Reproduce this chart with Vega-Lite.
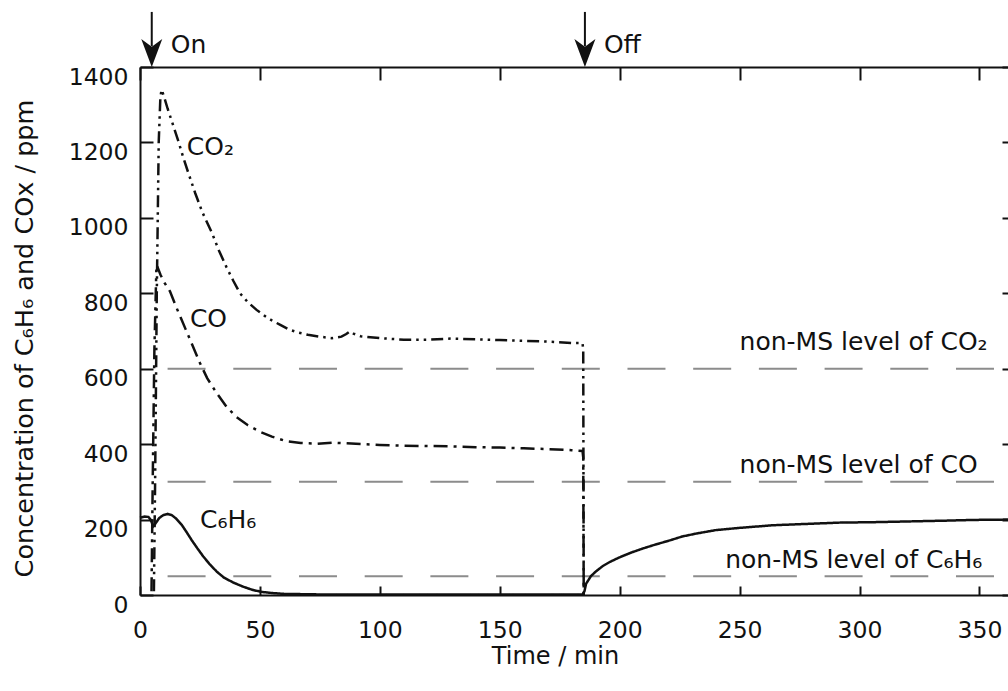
{
  "$schema": "https://vega.github.io/schema/vega-lite/v6.json",
  "width": 868,
  "height": 528,
  "autosize": {"type": "none"},
  "padding": {"left": 140, "top": 67, "right": 0, "bottom": 96},
  "background": "white",
  "config": {"view": {"stroke": null}, "font": "DejaVu Sans", "axis": {"grid": false}},
  "datasets": {
    "curves": [
      {"series": "C6H6", "t": 0, "v": 205}, {"series": "C6H6", "t": 2, "v": 208}, {"series": "C6H6", "t": 3.5, "v": 207},
      {"series": "C6H6", "t": 4.5, "v": 199}, {"series": "C6H6", "t": 5.5, "v": 182}, {"series": "C6H6", "t": 6.5, "v": 190},
      {"series": "C6H6", "t": 8, "v": 204}, {"series": "C6H6", "t": 9.7, "v": 212}, {"series": "C6H6", "t": 11.5, "v": 215},
      {"series": "C6H6", "t": 13.2, "v": 212}, {"series": "C6H6", "t": 15, "v": 203}, {"series": "C6H6", "t": 17.4, "v": 186},
      {"series": "C6H6", "t": 19.5, "v": 166}, {"series": "C6H6", "t": 21.5, "v": 146}, {"series": "C6H6", "t": 24, "v": 123},
      {"series": "C6H6", "t": 26.4, "v": 102}, {"series": "C6H6", "t": 29, "v": 82}, {"series": "C6H6", "t": 32, "v": 62},
      {"series": "C6H6", "t": 35, "v": 46}, {"series": "C6H6", "t": 38.9, "v": 33}, {"series": "C6H6", "t": 43, "v": 22},
      {"series": "C6H6", "t": 47.2, "v": 13}, {"series": "C6H6", "t": 51, "v": 8}, {"series": "C6H6", "t": 55.5, "v": 5},
      {"series": "C6H6", "t": 60, "v": 3}, {"series": "C6H6", "t": 70, "v": 2}, {"series": "C6H6", "t": 80, "v": 1},
      {"series": "C6H6", "t": 100, "v": 1}, {"series": "C6H6", "t": 120, "v": 1}, {"series": "C6H6", "t": 140, "v": 1},
      {"series": "C6H6", "t": 160, "v": 1}, {"series": "C6H6", "t": 184.5, "v": 1}, {"series": "C6H6", "t": 185.3, "v": 10},
      {"series": "C6H6", "t": 186, "v": 30}, {"series": "C6H6", "t": 188, "v": 50}, {"series": "C6H6", "t": 190, "v": 62},
      {"series": "C6H6", "t": 193, "v": 77}, {"series": "C6H6", "t": 196, "v": 88}, {"series": "C6H6", "t": 200, "v": 100},
      {"series": "C6H6", "t": 205, "v": 113}, {"series": "C6H6", "t": 210, "v": 124}, {"series": "C6H6", "t": 215, "v": 134},
      {"series": "C6H6", "t": 220, "v": 143}, {"series": "C6H6", "t": 226, "v": 155}, {"series": "C6H6", "t": 232, "v": 163},
      {"series": "C6H6", "t": 240, "v": 172}, {"series": "C6H6", "t": 250, "v": 178}, {"series": "C6H6", "t": 264, "v": 185},
      {"series": "C6H6", "t": 280, "v": 189}, {"series": "C6H6", "t": 292, "v": 192}, {"series": "C6H6", "t": 305, "v": 193},
      {"series": "C6H6", "t": 320, "v": 195}, {"series": "C6H6", "t": 335, "v": 197}, {"series": "C6H6", "t": 347, "v": 199},
      {"series": "C6H6", "t": 362, "v": 200},
      {"series": "CO2", "t": 5.8, "v": 10}, {"series": "CO2", "t": 6.3, "v": 300}, {"series": "CO2", "t": 7, "v": 800},
      {"series": "CO2", "t": 7.8, "v": 1200}, {"series": "CO2", "t": 8.5, "v": 1320}, {"series": "CO2", "t": 9, "v": 1340},
      {"series": "CO2", "t": 10, "v": 1322}, {"series": "CO2", "t": 11.5, "v": 1290}, {"series": "CO2", "t": 13.8, "v": 1246},
      {"series": "CO2", "t": 16, "v": 1203}, {"series": "CO2", "t": 18, "v": 1161}, {"series": "CO2", "t": 20, "v": 1122},
      {"series": "CO2", "t": 23, "v": 1066}, {"series": "CO2", "t": 26, "v": 1015}, {"series": "CO2", "t": 30, "v": 960},
      {"series": "CO2", "t": 33, "v": 912}, {"series": "CO2", "t": 36, "v": 870}, {"series": "CO2", "t": 39, "v": 832},
      {"series": "CO2", "t": 41.7, "v": 800}, {"series": "CO2", "t": 45, "v": 776}, {"series": "CO2", "t": 48.6, "v": 756},
      {"series": "CO2", "t": 52, "v": 740}, {"series": "CO2", "t": 55, "v": 728}, {"series": "CO2", "t": 58.5, "v": 716},
      {"series": "CO2", "t": 62.5, "v": 703}, {"series": "CO2", "t": 66, "v": 696}, {"series": "CO2", "t": 70, "v": 690},
      {"series": "CO2", "t": 75, "v": 685}, {"series": "CO2", "t": 80, "v": 681}, {"series": "CO2", "t": 84, "v": 685},
      {"series": "CO2", "t": 86, "v": 692}, {"series": "CO2", "t": 87.5, "v": 699}, {"series": "CO2", "t": 89, "v": 693},
      {"series": "CO2", "t": 92, "v": 686}, {"series": "CO2", "t": 100, "v": 681}, {"series": "CO2", "t": 110, "v": 677},
      {"series": "CO2", "t": 120, "v": 677}, {"series": "CO2", "t": 130, "v": 680}, {"series": "CO2", "t": 140, "v": 678},
      {"series": "CO2", "t": 150, "v": 676}, {"series": "CO2", "t": 160, "v": 674}, {"series": "CO2", "t": 170, "v": 672},
      {"series": "CO2", "t": 180, "v": 668}, {"series": "CO2", "t": 184.5, "v": 668}, {"series": "CO2", "t": 184.8, "v": 650},
      {"series": "CO2", "t": 185, "v": 0},
      {"series": "CO", "t": 4.8, "v": 10}, {"series": "CO", "t": 5.3, "v": 300}, {"series": "CO", "t": 6, "v": 650},
      {"series": "CO", "t": 6.8, "v": 860}, {"series": "CO", "t": 7.5, "v": 866}, {"series": "CO", "t": 8.5, "v": 850},
      {"series": "CO", "t": 10, "v": 830}, {"series": "CO", "t": 12.5, "v": 805}, {"series": "CO", "t": 15, "v": 765},
      {"series": "CO", "t": 17, "v": 735}, {"series": "CO", "t": 19, "v": 705}, {"series": "CO", "t": 21, "v": 675},
      {"series": "CO", "t": 23, "v": 645}, {"series": "CO", "t": 25, "v": 615}, {"series": "CO", "t": 28, "v": 575},
      {"series": "CO", "t": 32, "v": 535}, {"series": "CO", "t": 36, "v": 500}, {"series": "CO", "t": 40, "v": 473},
      {"series": "CO", "t": 45, "v": 450}, {"series": "CO", "t": 50, "v": 433}, {"series": "CO", "t": 55, "v": 420},
      {"series": "CO", "t": 61, "v": 408}, {"series": "CO", "t": 67, "v": 403}, {"series": "CO", "t": 74, "v": 401},
      {"series": "CO", "t": 80, "v": 404}, {"series": "CO", "t": 90, "v": 401}, {"series": "CO", "t": 100, "v": 398},
      {"series": "CO", "t": 110, "v": 396}, {"series": "CO", "t": 120, "v": 395}, {"series": "CO", "t": 130, "v": 394},
      {"series": "CO", "t": 140, "v": 392}, {"series": "CO", "t": 150, "v": 391}, {"series": "CO", "t": 160, "v": 389},
      {"series": "CO", "t": 170, "v": 387}, {"series": "CO", "t": 180, "v": 384}, {"series": "CO", "t": 184.5, "v": 382},
      {"series": "CO", "t": 184.8, "v": 365}, {"series": "CO", "t": 185, "v": 0}
    ],
    "levels": [
      {"level": 600, "start": 11.5, "end": 361.9},
      {"level": 300, "start": 11.5, "end": 361.9},
      {"level": 50, "start": 11.5, "end": 361.9}
    ],
    "switches": [
      {"label": "On", "t": 4.9},
      {"label": "Off", "t": 185.5}
    ],
    "notes": [
      {"text": "CO₂", "t": 19.5, "v": 1166},
      {"text": "CO", "t": 20.8, "v": 711},
      {"text": "C₆H₆", "t": 25, "v": 177},
      {"text": "non-MS level of CO₂", "t": 250, "v": 650},
      {"text": "non-MS level of CO", "t": 250, "v": 323},
      {"text": "non-MS level of C₆H₆", "t": 244, "v": 71}
    ]
  },
  "layer": [
    {
      "data": {"name": "levels"},
      "mark": {"type": "rule", "stroke": "#8c8c8c", "strokeWidth": 2, "strokeDash": [38, 27.7]},
      "encoding": {
        "x": {
          "field": "start", "type": "quantitative",
          "scale": {"domain": [0, 361.9], "nice": false, "zero": false},
          "axis": {
            "orient": "bottom", "values": [0, 50, 100, 150, 200, 250, 300, 350], "format": "d",
            "title": "Time / min", "tickSize": -9, "tickWidth": 2, "tickColor": "#111",
            "domainColor": "#111", "domainWidth": 2,
            "labelFont": "DejaVu Sans", "labelFontSize": 23.5, "labelColor": "#111",
            "labelPadding": 32.5, "labelBaseline": "top", "labelFlush": false, "labelOverlap": false,
            "titleFont": "DejaVu Sans", "titleFontSize": 24, "titleFontWeight": "normal", "titleColor": "#111",
            "titleX": 415, "titleY": 68.5, "titleBaseline": "alphabetic", "titleAlign": "center"
          }
        },
        "x2": {"field": "end"},
        "y": {
          "field": "level", "type": "quantitative",
          "scale": {"domain": [0, 1400], "nice": false},
          "axis": {
            "orient": "left", "values": [0, 200, 400, 600, 800, 1000, 1200, 1400], "format": "d",
            "title": "Concentration of C₆H₆  and COx / ppm", "tickSize": -13, "tickWidth": 2, "tickColor": "#111",
            "domainColor": "#111", "domainWidth": 2,
            "labelFont": "DejaVu Sans", "labelFontSize": 23.5, "labelColor": "#111",
            "labelPadding": 25, "labelOffset": 10, "labelOverlap": false, "labelFlush": false,
            "titleFont": "DejaVu Sans", "titleFontSize": 25.5, "titleFontWeight": "normal", "titleColor": "#111",
            "titleX": -108, "titleY": 271, "titleAngle": 270, "titleBaseline": "alphabetic", "titleAlign": "center"
          }
        }
      }
    },
    {
      "data": {"name": "curves"},
      "mark": {"type": "line", "stroke": "#111", "strokeWidth": 2.5, "strokeCap": "butt"},
      "encoding": {
        "x": {
          "field": "t", "type": "quantitative",
          "scale": {"domain": [0, 361.9], "nice": false, "zero": false},
          "axis": {
            "orient": "top", "values": [0, 50, 100, 150, 200, 250, 300, 350], "labels": false, "title": null,
            "tickSize": -13, "tickWidth": 2, "tickColor": "#111", "domainColor": "#111", "domainWidth": 2
          }
        },
        "y": {
          "field": "v", "type": "quantitative",
          "scale": {"domain": [0, 1400], "nice": false},
          "axis": {
            "orient": "right", "values": [0, 200, 400, 600, 800, 1000, 1200, 1400], "labels": false, "title": null,
            "domain": false, "tickSize": -6, "tickWidth": 2, "tickColor": "#111"
          }
        },
        "detail": {"field": "series"},
        "strokeDash": {
          "field": "series", "type": "nominal",
          "scale": {"domain": ["C6H6", "CO", "CO2"], "range": [[1, 0], [14, 6, 3, 6], [12, 5, 2.5, 5, 2.5, 5]]},
          "legend": null
        }
      }
    },
    {
      "data": {"name": "switches"},
      "mark": {"type": "rule", "stroke": "#111", "strokeWidth": 2},
      "encoding": {
        "x": {"field": "t", "type": "quantitative", "axis": null},
        "y": {"datum": 1546, "axis": null},
        "y2": {"datum": 1455}
      }
    },
    {
      "data": {"name": "switches"},
      "mark": {"type": "point", "shape": "M0,1 L-0.75,-1 L0,-0.45 L0.75,-1 Z", "filled": true, "fill": "#111", "stroke": null, "size": 784, "opacity": 1},
      "encoding": {
        "x": {"field": "t", "type": "quantitative", "axis": null},
        "y": {"datum": 1437, "axis": null}
      }
    },
    {
      "data": {"name": "switches"},
      "mark": {"type": "text", "align": "left", "baseline": "alphabetic", "dx": 19, "font": "DejaVu Sans", "fontSize": 25, "fill": "#111"},
      "encoding": {
        "x": {"field": "t", "type": "quantitative", "axis": null},
        "y": {"datum": 1436, "axis": null},
        "text": {"field": "label"}
      }
    },
    {
      "data": {"name": "notes"},
      "mark": {"type": "text", "align": "left", "baseline": "alphabetic", "font": "DejaVu Sans", "fontSize": 25, "fill": "#111"},
      "encoding": {
        "x": {"field": "t", "type": "quantitative", "axis": null},
        "y": {"field": "v", "type": "quantitative", "axis": null},
        "text": {"field": "text"}
      }
    }
  ],
  "resolve": {"axis": {"x": "independent", "y": "independent"}}
}
